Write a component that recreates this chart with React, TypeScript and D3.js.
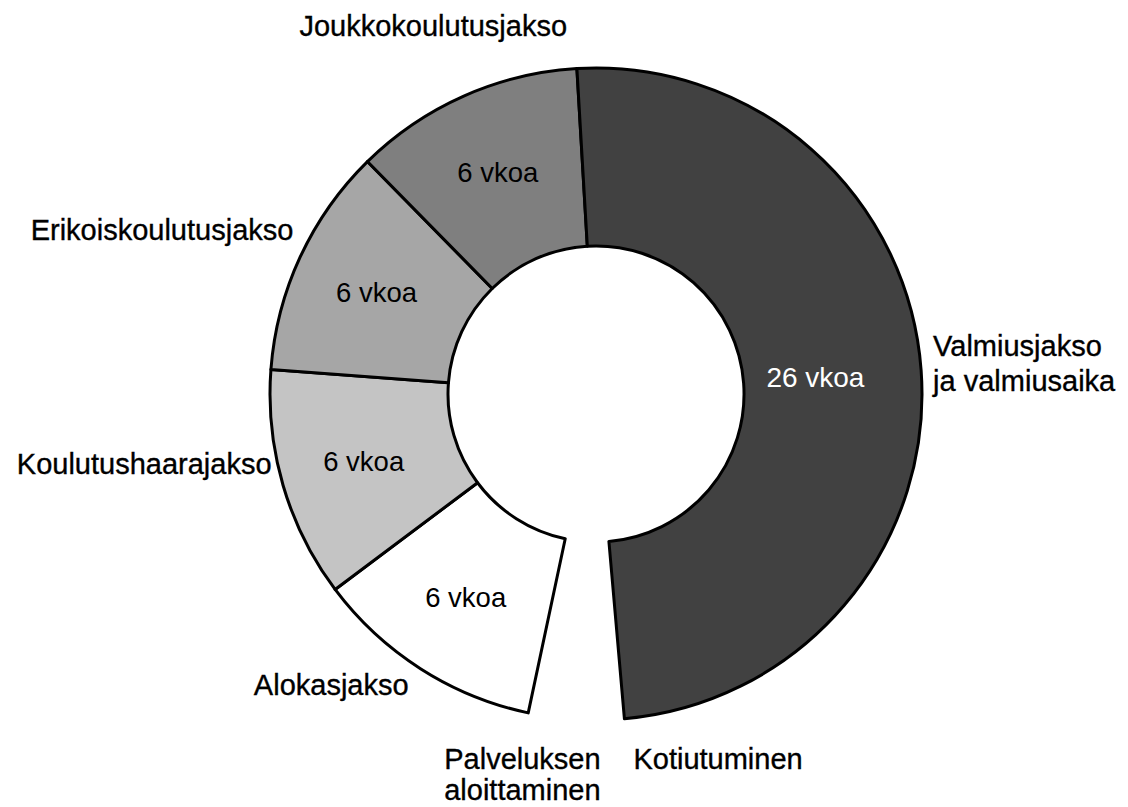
import React from "react";
import * as d3 from "d3";

// phases of service, in order from start of service to discharge
const phases = [
  "Alokasjakso",
  "Koulutushaarajakso",
  "Erikoiskoulutusjakso",
  "Joukkokoulutusjakso",
  "Valmiusjakso|ja valmiusaika",
];
const weeks = [6, 6, 6, 6, 26];
const valueLabels = ["6 vkoa", "6 vkoa", "6 vkoa", "6 vkoa", "26 vkoa"];
const fills = ["#ffffff", "#c4c4c4", "#a6a6a6", "#7f7f7f", "#414141"];
const bevels = ["#e4e4e4", "#d4d4d4", "#b6b6b6", "#939393", "#5a5a5a"];
const textFills = ["#000", "#000", "#000", "#000", "#fff"];
const gapLabels = ["Palveluksen|aloittaminen", "Kotiutuminen"];

const W = 1128;
const H = 807;
const cx = 596;
const cy = 394;
const outerR = 326;
const innerR = 148;
const deg = Math.PI / 180;
const FONT = "'Liberation Sans', Arial, sans-serif";

// where the outer labels sit: radius from centre, anchor, extra angle
const labelLayout = [
  { r: 348, anchor: "end", da: 0, dy: 8 },
  { r: 332, anchor: "end", da: 4, dy: 10 },
  { r: 344, anchor: "end", da: 3.5, dy: 10 },
  { r: 401, anchor: "middle", da: 0, dy: 9 },
  { r: 338, anchor: "start", da: 0, dy: -13 },
];

function App() {
  const pie = d3
    .pie<number>()
    .sort(null)
    .value((d) => d)
    .startAngle(192 * deg)
    .endAngle(535 * deg);
  const arcs = pie(weeks);

  const arc = d3
    .arc<d3.PieArcDatum<number>>()
    .innerRadius(innerR)
    .outerRadius(outerR);

  const polar = (a: number, r: number) => [
    cx + r * Math.sin(a),
    cy - r * Math.cos(a),
  ];

  const mid = (d: d3.PieArcDatum<number>) => (d.startAngle + d.endAngle) / 2;

  // gap labels sit under the two open ends of the ring
  const startPt = polar(arcs[0].startAngle, outerR);
  const endPt = polar(arcs[arcs.length - 1].endAngle, outerR);

  return (
    <svg
      width={W}
      height={H}
      style={{ position: "absolute", left: 0, top: 0, background: "#fff" }}
      fontFamily={FONT}
    >
      <defs>
        {arcs.map((d, i) => (
          <clipPath id={"clip" + i} key={i}>
            <path d={arc(d) || ""} transform={`translate(${cx},${cy})`} />
          </clipPath>
        ))}
      </defs>
      <g>
        {arcs.map((d, i) => (
          <g key={i}>
            <path
              d={arc(d) || ""}
              transform={`translate(${cx},${cy})`}
              fill={fills[i]}
            />
            <path
              d={arc(d) || ""}
              transform={`translate(${cx},${cy})`}
              fill="none"
              stroke={bevels[i]}
              strokeWidth={7}
              clipPath={`url(#clip${i})`}
            />
            <path
              d={arc(d) || ""}
              transform={`translate(${cx},${cy})`}
              fill="none"
              stroke="#000"
              strokeWidth={3}
              strokeLinejoin="round"
            />
          </g>
        ))}
      </g>
      <g>
        {arcs.map((d, i) => {
          const [x, y] = polar(mid(d), i === 4 ? 220 : 242);
          return (
            <text
              key={i}
              x={x}
              y={y}
              textAnchor="middle"
              dominantBaseline="central"
              fill={textFills[i]}
              fontSize={i === 4 ? 28 : 27.5}
            >
              {valueLabels[i]}
            </text>
          );
        })}
      </g>
      <g fontSize={29} fill="#000" stroke="#000" strokeWidth={0.35}>
        {arcs.map((d, i) => {
          const L = labelLayout[i];
          const [x, y] = polar(mid(d) + L.da * deg, L.r);
          const lines = phases[i].split("|");
          return (
            <text key={i} x={x} y={y + L.dy} textAnchor={L.anchor}>
              {lines.map((t, j) => (
                <tspan key={j} x={x} dy={j === 0 ? 0 : 35}>
                  {t}
                </tspan>
              ))}
            </text>
          );
        })}
        <text x={startPt[0] - 84} y={769} textAnchor="start">
          {gapLabels[0].split("|").map((t, j) => (
            <tspan key={j} x={startPt[0] - 84} dy={j === 0 ? 0 : 31}>
              {t}
            </tspan>
          ))}
        </text>
        <text x={endPt[0] + 9} y={769} textAnchor="start">
          {gapLabels[1]}
        </text>
      </g>
    </svg>
  );
}

export default App;
